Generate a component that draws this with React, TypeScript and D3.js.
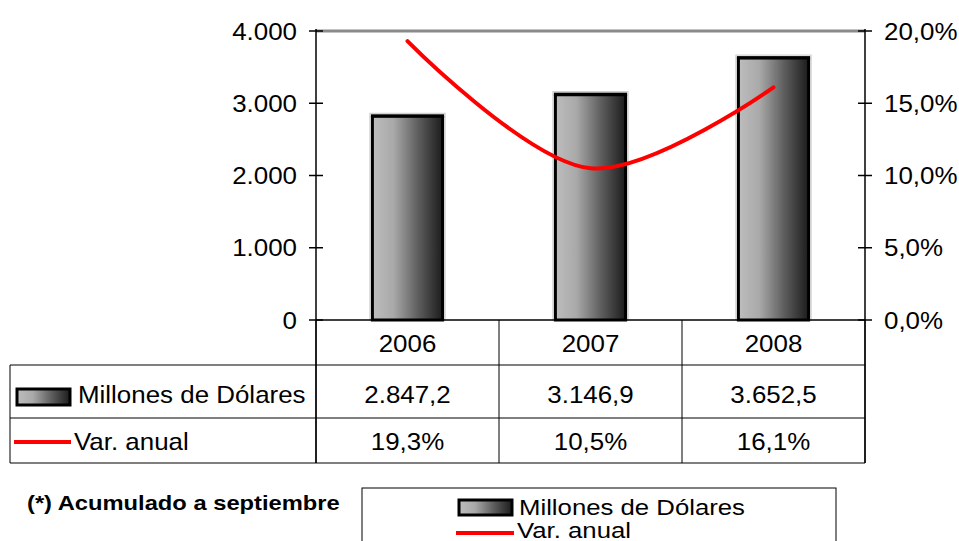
import React from "react";
import * as d3 from "d3";

const years = ["2006", "2007", "2008"];
const millones = [2847.2, 3146.9, 3652.5];
const varAnual = [19.3, 10.5, 16.1];
const millonesLabels = ["2.847,2", "3.146,9", "3.652,5"];
const varLabels = ["19,3%", "10,5%", "16,1%"];
const leftTicks = [0, 1000, 2000, 3000, 4000];
const rightTicks = [0, 5, 10, 15, 20];
const seriesNames = ["Millones de Dólares", "Var. anual"];
const footnote = "(*) Acumulado a septiembre";

const W = 959;
const H = 541;
const plotL = 316;
const plotR = 865;
const plotT = 31;
const plotB = 320;
const tableL = 10;
const rowLines = [365, 418, 463];
const FONT = "'Liberation Sans', Arial, sans-serif";
const FS = 24;
const SX = 1.08;

const fmtLeft = (v: number) =>
  v === 0 ? "0" : d3.format(",")(v).replace(/,/g, ".");
const fmtRight = (v: number) => v.toFixed(1).replace(".", ",") + "%";

function T(props: {
  x: number;
  y: number;
  anchor?: "start" | "middle" | "end";
  size?: number;
  bold?: boolean;
  sx?: number;
  children: React.ReactNode;
}) {
  const { x, y, anchor = "start", size = FS, bold = false, sx = SX, children } = props;
  return (
    <g transform={`translate(${x},${y}) scale(${sx},1)`}>
      <text
        x={0}
        y={0}
        textAnchor={anchor}
        dominantBaseline="central"
        fontSize={size}
        fontWeight={bold ? "bold" : "normal"}
      >
        {children}
      </text>
    </g>
  );
}

export default function App() {
  const x = d3.scaleBand<string>().domain(years).range([plotL, plotR]).padding(0);
  const y = d3.scaleLinear().domain([0, 4000]).range([plotB, plotT]);
  const y2 = d3.scaleLinear().domain([0, 20]).range([plotB, plotT]);
  const bw = x.bandwidth() * 0.4;
  const cx = (yr: string) => (x(yr) as number) + x.bandwidth() / 2;

  const line = d3
    .line<number>()
    .x((_, i) => cx(years[i]))
    .y((d) => y2(d))
    .curve(d3.curveCatmullRom.alpha(0.5));

  const bounds = [plotL, ...years.map((yr) => (x(yr) as number) + x.bandwidth())];

  const rowMid = [343, 394, 441];

  return (
    <svg
      width={W}
      height={H}
      style={{ position: "absolute", left: 0, top: 0, background: "#fff" }}
      fontFamily={FONT}
    >
      <defs>
        <linearGradient id="barGrad" x1="0" x2="1" y1="0" y2="0">
          <stop offset="0" stopColor="#bdbdbd" />
          <stop offset="0.3" stopColor="#a9a9a9" />
          <stop offset="0.65" stopColor="#5e5e5e" />
          <stop offset="1" stopColor="#1c1c1c" />
        </linearGradient>
      </defs>

      {/* top border */}
      <line x1={plotL} x2={plotR} y1={plotT} y2={plotT} stroke="#8a8a8a" strokeWidth={3} />

      {/* bars */}
      {years.map((yr, i) => (
        <g key={yr}>
          <rect
            x={cx(yr) - bw / 2 - 1}
            y={y(millones[i]) - 1}
            width={bw + 2}
            height={plotB - y(millones[i]) + 1}
            fill="none"
            stroke="#c8c8c8"
            strokeWidth={1}
          />
          <rect
            x={cx(yr) - bw / 2 + 1.5}
            y={y(millones[i]) + 1.5}
            width={bw - 3}
            height={plotB - y(millones[i]) - 1.5}
            fill="url(#barGrad)"
            stroke="#000"
            strokeWidth={3}
          />
          <line
            x1={cx(yr) - bw / 2}
            x2={cx(yr) + bw / 2}
            y1={y(millones[i]) + 2.5}
            y2={y(millones[i]) + 2.5}
            stroke="#000"
            strokeWidth={2}
          />
        </g>
      ))}

      {/* axes */}
      <line x1={plotL} x2={plotL} y1={plotT - 2} y2={rowLines[2]} stroke="#000" strokeWidth={1.5} />
      <line x1={plotR} x2={plotR} y1={plotT - 2} y2={rowLines[2]} stroke="#000" strokeWidth={1.5} />
      <line x1={plotL} x2={plotR} y1={plotB} y2={plotB} stroke="#000" strokeWidth={1.5} />
      {leftTicks.map((t) => (
        <g key={"l" + t}>
          <line x1={plotL - 7} x2={plotL + 7} y1={y(t)} y2={y(t)} stroke="#000" strokeWidth={1.5} />
          <T x={297} y={y(t)} anchor="end">
            {fmtLeft(t)}
          </T>
        </g>
      ))}
      {rightTicks.map((t) => (
        <g key={"r" + t}>
          <line x1={plotR - 7} x2={plotR + 7} y1={y2(t)} y2={y2(t)} stroke="#000" strokeWidth={1.5} />
          <T x={884} y={y2(t)}>
            {fmtRight(t)}
          </T>
        </g>
      ))}

      {/* line */}
      <path d={line(varAnual) || ""} fill="none" stroke="#ff0000" strokeWidth={4} strokeLinecap="round" />

      {/* data table */}
      {bounds.map((b, i) => (
        <line key={"v" + i} x1={b} x2={b} y1={plotB} y2={rowLines[2]} stroke="#000" strokeWidth={1} />
      ))}
      <line x1={tableL} x2={tableL} y1={rowLines[0]} y2={rowLines[2]} stroke="#000" strokeWidth={1} />
      {rowLines.map((r) => (
        <line key={"h" + r} x1={tableL} x2={plotR} y1={r} y2={r} stroke="#000" strokeWidth={1} />
      ))}
      {years.map((yr, i) => (
        <g key={"t" + yr}>
          <T x={cx(yr)} y={rowMid[0]} anchor="middle">
            {yr}
          </T>
          <T x={cx(yr)} y={rowMid[1]} anchor="middle">
            {millonesLabels[i]}
          </T>
          <T x={cx(yr)} y={rowMid[2]} anchor="middle">
            {varLabels[i]}
          </T>
        </g>
      ))}
      <rect x={17} y={389} width={53} height={16} fill="url(#barGrad)" stroke="#000" strokeWidth={3} />
      <T x={78} y={rowMid[1]}>
        {seriesNames[0]}
      </T>
      <line x1={14} x2={71} y1={rowMid[2] + 1} y2={rowMid[2] + 1} stroke="#ff0000" strokeWidth={4} />
      <T x={74} y={rowMid[2]}>
        {seriesNames[1]}
      </T>

      {/* footnote */}
      <T x={27} y={503} size={21} bold sx={1.13}>
        {footnote}
      </T>

      {/* legend */}
      <rect x={362} y={488} width={474} height={80} fill="#fff" stroke="#000" strokeWidth={1} />
      <rect x={459} y={500} width={53} height={15} fill="url(#barGrad)" stroke="#000" strokeWidth={3} />
      <T x={519} y={507} size={22} sx={1.17}>
        {seriesNames[0]}
      </T>
      <line x1={456} x2={514} y1={533} y2={533} stroke="#ff0000" strokeWidth={4} />
      <T x={517} y={530} size={22} sx={1.17}>
        {seriesNames[1]}
      </T>
    </svg>
  );
}
